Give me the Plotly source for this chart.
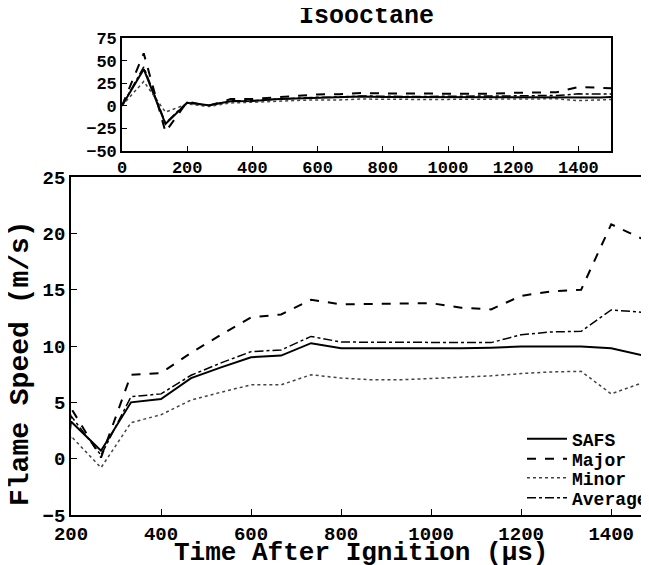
import plotly.graph_objects as go

# Time after ignition (µs), frames every 66.7 µs
time_us = [0, 66.7, 133.3, 200, 266.7, 333.3, 400, 466.7, 533.3, 600, 666.7, 733.3,
           800, 866.7, 933.3, 1000, 1066.7, 1133.3, 1200, 1266.7, 1333.3, 1400, 1466.7, 1533.3]

safs = [0, 40.5, -20, 3.3, 0.7, 5.0, 5.3, 7.15, 8.1, 9.0, 9.15, 10.25,
        9.8, 9.8, 9.75, 9.8, 9.8, 9.85, 9.95, 9.95, 9.95, 9.8, 9.2, 10.4]
major = [0, 58, -29, 4.5, 0.1, 7.45, 7.6, 9.4, 11.0, 12.55, 12.8, 14.1,
         13.7, 13.75, 13.75, 13.8, 13.4, 13.25, 14.45, 14.85, 15.0, 20.8, 19.55, 19.0]
minor = [0, 27, -7, 2.0, -0.8, 3.2, 3.9, 5.2, 5.9, 6.55, 6.55, 7.45,
         7.15, 7.0, 7.0, 7.1, 7.2, 7.35, 7.55, 7.7, 7.75, 5.75, 6.7, 7.3]
average = [0, 43, -19, 3.8, 0.3, 5.5, 5.75, 7.4, 8.5, 9.5, 9.65, 10.85,
           10.35, 10.35, 10.35, 10.35, 10.35, 10.3, 11.0, 11.25, 11.3, 13.2, 13.0, 12.9]

series_names = ["SAFS", "Major", "Minor", "Average"]
series_vals = [safs, major, minor, average]
dashes = ["solid", "dash", "dot", "dashdot"]
widths = [2, 2, 1.5, 1.5]
colors = ["black", "black", "#444444", "black"]
legend_ids = ["legend", "legend2", "legend3", "legend4"]
legend_y = [439, 459, 478, 498]   # item centres in window pixels

main_xticks = [200, 400, 600, 800, 1000, 1200, 1400]
main_yticks = [-5, 0, 5, 10, 15, 20, 25]
inset_xticks = [0, 200, 400, 600, 800, 1000, 1200, 1400]
inset_yticks = [-50, -25, 0, 25, 50, 75]

FONT = "Liberation Mono"
OFF = 8                      # page body margin
W, H = 649 - OFF, 565 - OFF


def px(x):
    return (x - OFF) / W


def py(y):
    return (H - (y - OFF)) / H


fig = go.Figure()
for name, vals, d, w, c, lg in zip(series_names, series_vals, dashes, widths, colors, legend_ids):
    fig.add_trace(go.Scatter(x=time_us, y=vals, mode="lines", name=name,
                             line=dict(color=c, width=w, dash=d), legend=lg,
                             xaxis="x", yaxis="y"))
for name, vals, d, w, c in zip(series_names, series_vals, dashes, widths, colors):
    fig.add_trace(go.Scatter(x=time_us, y=vals, mode="lines", name=name,
                             line=dict(color=c, width=w, dash=d), showlegend=False,
                             xaxis="x2", yaxis="y2"))


def axis(size, **kw):
    d = dict(showline=True, linecolor="black", linewidth=1.6, ticks="inside",
             tickcolor="black", showgrid=False, zeroline=False, automargin=False,
             tickfont=dict(family=FONT, size=size, color="black", weight="bold"))
    d.update(kw)
    return d


legends = {}
for lg, yc in zip(legend_ids, legend_y):
    legends[lg] = dict(x=px(522), xanchor="left", y=py(yc), yanchor="middle",
                       bgcolor="rgba(0,0,0,0)", borderwidth=0,
                       font=dict(family=FONT, size=18, color="black", weight="bold"),
                       itemwidth=40)

fig.update_layout(
    width=W, height=H, margin=dict(l=0, r=0, t=0, b=0, autoexpand=False),
    paper_bgcolor="white", plot_bgcolor="white",
    showlegend=True,
    xaxis=axis(19, domain=[px(71), 1.0], range=[200, 1484], tickvals=main_xticks,
               mirror=True, ticklen=6, anchor="y"),
    yaxis=axis(19, domain=[py(515), py(177)], range=[-5, 25],
               tickvals=main_yticks, mirror=False, ticklen=6, anchor="x"),
    xaxis2=axis(17, domain=[px(122), px(611)], range=[0, 1500], tickvals=inset_xticks,
                mirror=True, ticklen=5, anchor="y2"),
    yaxis2=axis(17, domain=[py(151), py(38)], range=[-50, 75],
                tickvals=inset_yticks, mirror=True, ticklen=5, anchor="x2"),
    annotations=[
        dict(text="Isooctane", x=px(366), y=py(17), xref="paper", yref="paper",
             showarrow=False, xanchor="center", yanchor="middle",
             font=dict(family=FONT, size=25, color="black", weight="bold")),
        dict(text="Time After Ignition (μs)", x=px(361), y=py(553), xref="paper",
             yref="paper", showarrow=False, xanchor="center", yanchor="middle",
             font=dict(family=FONT, size=26, color="black", weight="bold")),
        dict(text="Flame Speed (m/s)", x=px(20), y=py(363), xref="paper",
             yref="paper", showarrow=False, xanchor="center", yanchor="middle", textangle=-90,
             font=dict(family=FONT, size=28, color="black", weight="bold")),
    ],
    **legends,
)

fig.write_html("out.html")
